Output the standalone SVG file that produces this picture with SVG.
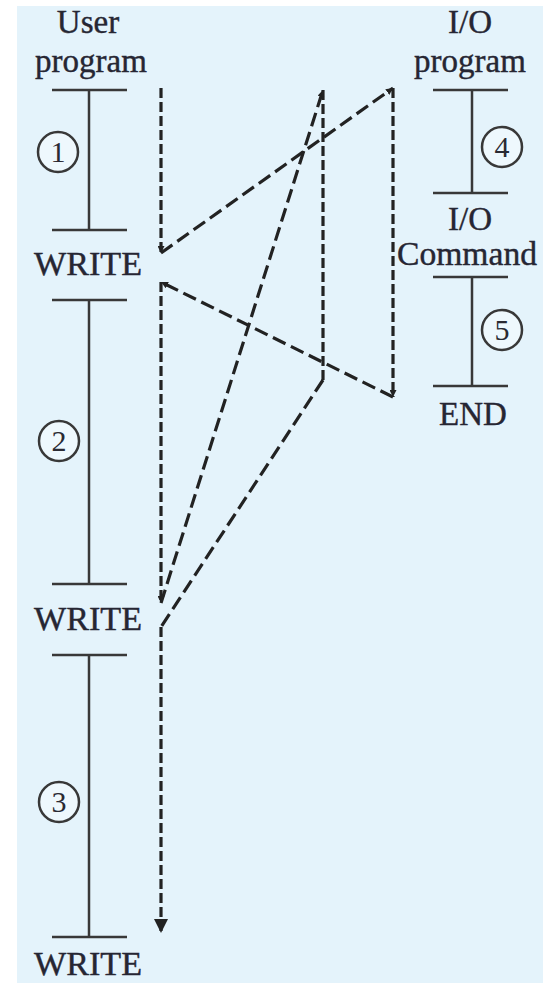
<svg xmlns="http://www.w3.org/2000/svg" width="543" height="983" viewBox="0 0 543 983">
<style>
.bg{fill:#e4f3fb}
.seg{stroke:#383838;stroke-width:2.5;fill:none}
.circ{stroke:#383838;stroke-width:2.5;fill:#eef8fd}
.lbl{font-family:"Liberation Serif","Times New Roman",serif;font-size:33px;fill:#262633;text-anchor:middle;stroke:#262633;stroke-width:0.4}
.num{font-family:"Liberation Serif","Times New Roman",serif;font-size:30px;fill:#2a2a33;text-anchor:middle}
.dv{stroke:#222222;stroke-width:3.2;fill:none;stroke-dasharray:10 4}
.dd{stroke:#222222;stroke-width:3.2;fill:none;stroke-dasharray:14 6}
</style>
<defs>
<marker id="sm" viewBox="0 0 10 10" refX="10" refY="5" markerWidth="7" markerHeight="7" markerUnits="userSpaceOnUse" orient="auto">
<path d="M0,0 L10,5 L0,10 z" fill="#222222"/>
</marker>
<marker id="big" viewBox="0 0 10 10" refX="10" refY="5" markerWidth="14" markerHeight="14" markerUnits="userSpaceOnUse" orient="auto">
<path d="M0,0 L10,5 L0,10 z" fill="#222222"/>
</marker>
</defs>
<rect x="0" y="0" width="543" height="983" fill="#ffffff"/>
<rect class="bg" x="17" y="6" width="526" height="977"/>

<g id="user-program-title">
<text class="lbl" x="88" y="33">User</text>
<text class="lbl" x="91" y="72">program</text>
</g>
<g id="segment-1">
<path class="seg" d="M52,90 H127 M89,90 V230 M52,230 H127"/>
<circle class="circ" cx="58" cy="152" r="20"/>
<text class="num" x="58" y="162">1</text>
</g>
<g id="write-1">
<text class="lbl" x="88" y="275" textLength="108" lengthAdjust="spacingAndGlyphs">WRITE</text>
</g>
<g id="segment-2">
<path class="seg" d="M52,300 H127 M89,300 V584 M52,584 H127"/>
<circle class="circ" cx="59" cy="441" r="20"/>
<text class="num" x="59" y="451">2</text>
</g>
<g id="write-2">
<text class="lbl" x="88" y="630" textLength="108" lengthAdjust="spacingAndGlyphs">WRITE</text>
</g>
<g id="segment-3">
<path class="seg" d="M52,655 H127 M89,655 V937 M52,937 H127"/>
<circle class="circ" cx="59" cy="802" r="20"/>
<text class="num" x="59" y="812">3</text>
</g>
<g id="write-3">
<text class="lbl" x="88" y="975" textLength="108" lengthAdjust="spacingAndGlyphs">WRITE</text>
</g>

<g id="io-program-title">
<text class="lbl" x="470" y="33">I/O</text>
<text class="lbl" x="470" y="72">program</text>
</g>
<g id="segment-4">
<path class="seg" d="M433,90 H508 M472,90 V193 M433,193 H508"/>
<circle class="circ" cx="502" cy="147" r="20"/>
<text class="num" x="502" y="157">4</text>
</g>
<g id="io-command">
<text class="lbl" x="470" y="230">I/O</text>
<text class="lbl" x="467" y="265" textLength="140" lengthAdjust="spacingAndGlyphs">Command</text>
</g>
<g id="segment-5">
<path class="seg" d="M433,277 H508 M472,277 V386 M433,386 H508"/>
<circle class="circ" cx="502" cy="330" r="20"/>
<text class="num" x="502" y="340">5</text>
</g>
<g id="end">
<text class="lbl" x="473" y="425">END</text>
</g>

<g id="connectors">
<path class="dv" d="M161,88 V253" marker-end="url(#sm)"/>
<path class="dd" d="M161,253 L393,88" marker-end="url(#sm)"/>
<path class="dv" d="M393,88 V397" marker-end="url(#sm)"/>
<path class="dd" d="M393,397 L161,282" marker-end="url(#sm)"/>
<path class="dv" d="M161,282 V603" marker-end="url(#sm)"/>
<path class="dd" d="M161,603 L323,90" marker-end="url(#sm)"/>
<path class="dv" d="M323,90 V380"/>
<path class="dd" d="M323,380 L161,627"/>
<path class="dv" d="M161,627 V933" marker-end="url(#big)"/>
</g>
</svg>
